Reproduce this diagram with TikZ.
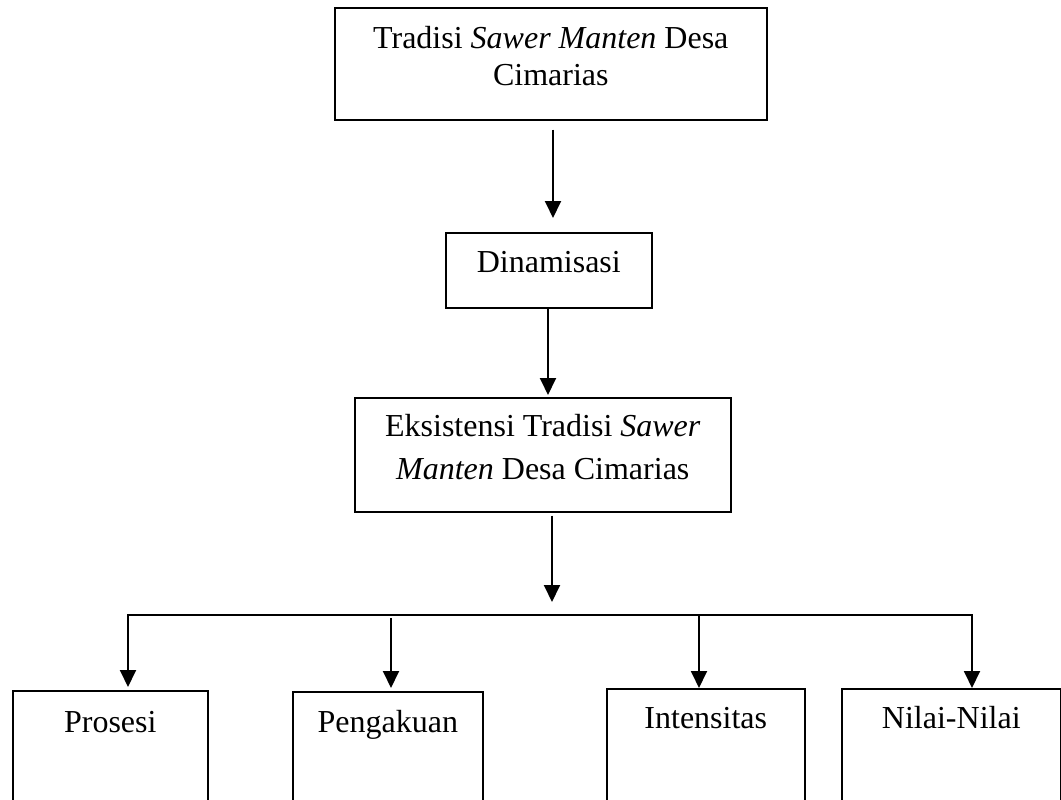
\documentclass[tikz,border=0pt]{standalone}
\usepackage{fontspec}
\setmainfont{Liberation Serif}
\usetikzlibrary{arrows.meta,calc}
\begin{document}
\begin{tikzpicture}[x=1pt,y=-1pt,
  box/.style={draw, line width=1.6pt, inner sep=0pt, anchor=north west},
  txt/.style={inner sep=0pt, anchor=base, font=\fontsize{32}{37}\selectfont},
  arr/.style={line width=1.9pt, -{Triangle[length=17pt,width=16pt]}},
  ln/.style={line width=1.9pt, line cap=rect}]
\useasboundingbox (0,0) rectangle (1061,800);
\clip (0,0) rectangle (1061,800);
% top box
\node[box, minimum width=432pt, minimum height=112pt] (b1) at (334,7) {};
\node[txt] (b1a) at ($(b1.north)+(0,42)$) {Tradisi \textit{Sawer Manten} Desa};
\node[txt] (b1b) at ($(b1.north)+(0,79)$) {Cimarias};
% second box
\node[box, minimum width=206pt, minimum height=75pt] (b2) at (445,232) {};
\node[txt] (b2a) at ($(b2.north)+(0,40)$) {Dinamisasi};
% third box
\node[box, minimum width=376pt, minimum height=114pt] (b3) at (354,397) {};
\node[txt] (b3a) at ($(b3.north)+(0,39)$) {Eksistensi Tradisi \textit{Sawer}};
\node[txt] (b3b) at ($(b3.north)+(0,82)$) {\textit{Manten} Desa Cimarias};
% bottom boxes
\node[box, minimum width=195pt, minimum height=130pt] (p1) at (12,690) {};
\node[txt] (p1a) at ($(p1.north)+(0,42)$) {Prosesi};
\node[box, minimum width=190pt, minimum height=130pt] (p2) at (292,691) {};
\node[txt] (p2a) at ($(p2.north)+(0,41)$) {Pengakuan};
\node[box, minimum width=198pt, minimum height=130pt] (p3) at (606,688) {};
\node[txt] (p3a) at ($(p3.north)+(0,40)$) {Intensitas};
\node[box, minimum width=219pt, minimum height=130pt] (p4) at (841,688) {};
\node[txt] (p4a) at ($(p4.north)+(0,40)$) {Nilai-Nilai};
% connectors
\coordinate (c1) at (553,0);
\coordinate (c2) at (548,0);
\coordinate (c3) at (552,615);
\draw[arr, shorten <=9pt, shorten >=14pt] (b1.south -| c1) -- (b2.north -| c1);
\draw[arr, shorten >=2pt] (b2.south -| c2) -- (b3.north -| c2);
\draw[arr, shorten <=3pt, shorten >=13pt] (b3.south -| c3) -- (c3);
\coordinate (bl) at (128,615);
\coordinate (br) at (972,615);
\coordinate (k2) at (391,618);
\coordinate (k3) at (699,615);
\draw[ln] (bl) -- (br);
\draw[arr, shorten >=3pt] (bl) -- (bl |- p1.north);
\draw[arr, shorten >=3pt] (k2) -- (k2 |- p2.north);
\draw[arr] (k3) -- (k3 |- p3.north);
\draw[arr] (br) -- (br |- p4.north);
\end{tikzpicture}
\end{document}
